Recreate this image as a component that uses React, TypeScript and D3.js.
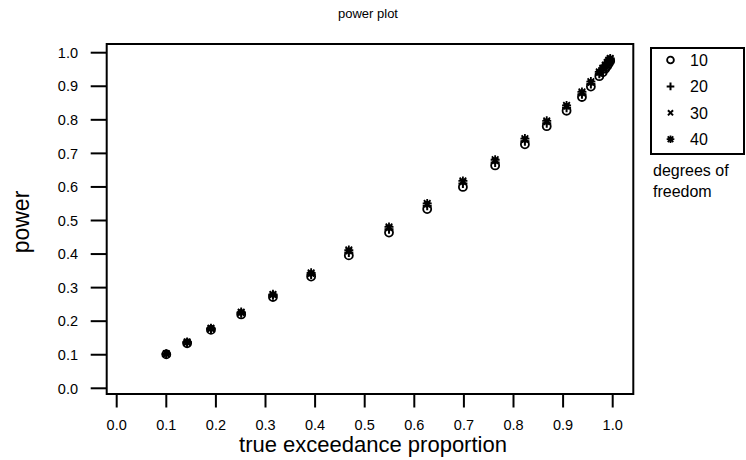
import React from "react";
import * as d3 from "d3";

const proportions = [0.100, 0.142, 0.190, 0.251, 0.315, 0.392, 0.468, 0.549, 0.626, 0.698, 0.763, 0.823, 0.867, 0.907, 0.938, 0.956, 0.973, 0.980, 0.985, 0.989, 0.992, 0.995];
const power10 = [0.101, 0.134, 0.174, 0.220, 0.272, 0.333, 0.396, 0.464, 0.534, 0.600, 0.664, 0.727, 0.781, 0.827, 0.868, 0.899, 0.930, 0.942, 0.952, 0.960, 0.968, 0.975];
const power20 = [0.102, 0.136, 0.177, 0.224, 0.277, 0.339, 0.405, 0.474, 0.544, 0.610, 0.673, 0.736, 0.790, 0.836, 0.876, 0.907, 0.937, 0.949, 0.958, 0.966, 0.973, 0.979];
const power30 = [0.103, 0.137, 0.178, 0.226, 0.279, 0.342, 0.409, 0.478, 0.548, 0.615, 0.678, 0.741, 0.794, 0.840, 0.880, 0.911, 0.941, 0.952, 0.961, 0.969, 0.976, 0.981];
const power40 = [0.103, 0.138, 0.179, 0.227, 0.280, 0.344, 0.412, 0.481, 0.551, 0.618, 0.681, 0.744, 0.797, 0.843, 0.883, 0.914, 0.943, 0.954, 0.963, 0.971, 0.978, 0.983];
const dfLabels = ["10", "20", "30", "40"];
const tickValues = [0, 0.1, 0.2, 0.3, 0.4, 0.5, 0.6, 0.7, 0.8, 0.9, 1.0];

const FONT = "'Liberation Sans', Arial, sans-serif";

function Marker({ kind, x, y, s }: { kind: number; x: number; y: number; s: number }) {
  const k = s;
  if (kind === 0) return <circle cx={x} cy={y} r={4 * k} fill="none" stroke="#000" strokeWidth={1.8} />;
  if (kind === 1)
    return <path d={`M${x - 4.5 * k},${y}H${x + 4.5 * k}M${x},${y - 4.5 * k}V${y + 4.5 * k}`} stroke="#000" strokeWidth={2} />;
  if (kind === 2)
    return <path d={`M${x - 3 * k},${y - 3 * k}L${x + 3 * k},${y + 3 * k}M${x - 3 * k},${y + 3 * k}L${x + 3 * k},${y - 3 * k}`} stroke="#000" strokeWidth={2} />;
  const a = 4.5 * k, b = 3.3 * k;
  return (
    <path
      d={`M${x - a},${y}H${x + a}M${x},${y - a}V${y + a}M${x - b},${y - b}L${x + b},${y + b}M${x - b},${y + b}L${x + b},${y - b}`}
      stroke="#000"
      strokeWidth={1.8}
    />
  );
}

export default function App() {
  const x = d3.scaleLinear().domain([0, 1]).range([116.7, 612.7]);
  const y = d3.scaleLinear().domain([0, 1]).range([388.3, 52.7]);
  const box = { l: 106.7, r: 633.3, t: 44, b: 394 };
  const series = [power10, power20, power30, power40];
  const fmt = d3.format(".1f");

  return (
    <svg width={746} height={460} style={{ position: "absolute", left: 0, top: 0, background: "#fff" }} fontFamily={FONT}>
      <text x={368} y={18} fontSize={13} textAnchor="middle">power plot</text>
      <rect x={box.l} y={box.t} width={box.r - box.l} height={box.b - box.t} fill="none" stroke="#000" strokeWidth={2} />
      {tickValues.map((v) => (
        <g key={"y" + v}>
          <line x1={90.7} x2={box.l} y1={y(v)} y2={y(v)} stroke="#000" strokeWidth={2} />
          <text x={78} y={y(v)} dy="0.36em" fontSize={14.5} textAnchor="end">{fmt(v)}</text>
        </g>
      ))}
      {tickValues.map((v) => (
        <g key={"x" + v}>
          <line x1={x(v)} x2={x(v)} y1={box.b} y2={407.5} stroke="#000" strokeWidth={2} />
          <text x={x(v)} y={430} fontSize={14.5} textAnchor="middle">{fmt(v)}</text>
        </g>
      ))}
      <text x={373} y={452} fontSize={22} textAnchor="middle">true exceedance proportion</text>
      <text transform="translate(29,222) rotate(-90)" fontSize={23} textAnchor="middle">power</text>
      {series.map((vals, si) =>
        vals.map((v, i) => <Marker key={si + "-" + i} kind={si} x={x(proportions[i])} y={y(v)} s={1} />)
      )}
      <rect x={651} y={48} width={93} height={106} fill="none" stroke="#000" strokeWidth={2} />
      {dfLabels.map((lab, i) => {
        const yy = 60 + i * 26.4;
        return (
          <g key={lab}>
            <Marker kind={i} x={670.5} y={yy} s={0.85} />
            <text x={690} y={yy} dy="0.36em" fontSize={16}>{lab}</text>
          </g>
        );
      })}
      <text x={653} y={176} fontSize={16}>degrees of</text>
      <text x={653} y={197} fontSize={16}>freedom</text>
    </svg>
  );
}
